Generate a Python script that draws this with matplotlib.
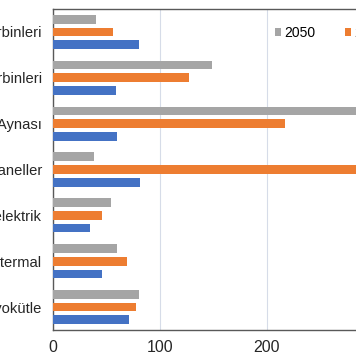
import matplotlib.pyplot as plt
import numpy as np

plt.rcParams['font.family'] = ['Liberation Sans', 'DejaVu Sans']

categories = ["Kara Rüzgar Türbinleri", "Deniz Rüzgar Türbinleri", "Güneş Aynası",
              "Güneş Paneller", "Hidroelektrik", "Jeotermal", "Biyokütle"]
years = ["2050", "2030", "2020"]
v2050 = [40, 149, 300, 38, 54, 60, 80]
v2030 = [56, 127, 217, 300, 46, 69, 78]
v2020 = [80, 59, 60, 81, 35, 46, 71]
colors = ["#A5A5A5", "#ED7D31", "#4472C4"]

fig = plt.figure(figsize=(3.56, 3.64), dpi=100)
ax = fig.add_axes([53 / 356, 34 / 364, 321 / 356, 321 / 364])

y = np.arange(len(categories))
pitch = 0.277
height = 0.19
for i, (vals, lab, col) in enumerate(zip([v2050, v2030, v2020], years, colors)):
    ax.barh(y + (i - 1) * pitch, vals, height=height, color=col, label=lab, zorder=3)

ax.set_xlim(0, 300)
ax.set_ylim(len(categories) - 0.5, -0.5)
ax.set_xticks([0, 100, 200])
ax.set_yticks(y)
ax.set_yticklabels(categories, fontsize=10.6, color="#262626")
ax.tick_params(axis='x', labelsize=11.5, colors="#262626", length=0, pad=7)
ax.tick_params(axis='y', length=0, pad=8)
ax.grid(axis='x', color="#D6DCE8", linewidth=0.8, zorder=0)
for s in ax.spines.values():
    s.set_color("#595959")
    s.set_linewidth(1.0)

ax.legend(ncol=3, frameon=False, loc='center left', bbox_to_anchor=(275 / 356, 1 - 33 / 364),
          bbox_transform=fig.transFigure, fontsize=10, handlelength=0.45, handleheight=0.45,
          handletextpad=0.25, columnspacing=2.1, borderaxespad=0, borderpad=0)

fig.savefig("out.png", dpi=100)
